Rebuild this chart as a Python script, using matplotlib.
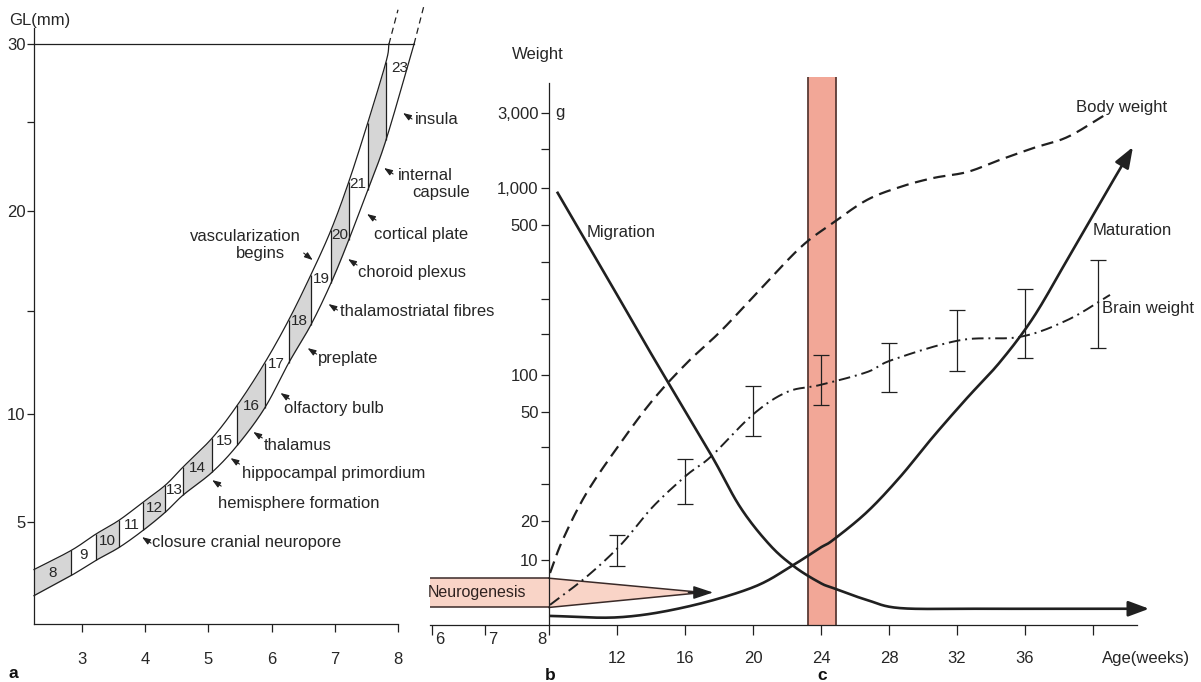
import numpy as np
import matplotlib
matplotlib.use("Agg")
import matplotlib.pyplot as plt
from matplotlib.patches import Polygon, Rectangle

plt.rcParams['font.family'] = ['Liberation Sans', 'DejaVu Sans']
plt.rcParams['font.size'] = 12
INK = '#202020'
TXT = '#262626'
W, H = 1201, 682

# ---------------- panel a: greatest length (GL) of the embryo, stages 8-23 ----------------
stages = list(range(8, 24))
stage_labels = ['8', '9', '10', '11', '12', '13', '14', '15', '16', '17', '18',
                '19', '20', '21', '', '23']
stage_start_wk = [2.24, 2.83, 3.22, 3.59, 3.97, 4.32, 4.60, 5.06, 5.46, 5.89,
                  6.27, 6.62, 6.94, 7.22, 7.52, 7.81]
gl_upper = [2.67, 3.61, 4.41, 5.09, 5.93, 6.71, 7.55, 8.89, 10.44, 12.48,
            14.56, 16.8, 19.05, 21.63, 24.94, 28.85]
gl_lower = [1.39, 2.38, 3.12, 3.76, 4.60, 5.46, 6.25, 7.31, 8.56, 10.29,
            12.48, 14.32, 16.4, 18.55, 21.18, 23.99]
gl_top = 30
upper_top_wk, lower_top_wk = 7.857, 8.254
upper_beyond_wk, upper_beyond_gl = [7.857, 8.0], [30, 32.2]
lower_beyond_wk, lower_beyond_gl = [8.254, 8.413], [30, 32.5]
gl_ticks = [5, 10, 15, 20, 25, 30]
gl_ticklabels = ['5', '10', '', '20', '', '30']
wk_ticks_a = [3, 4, 5, 6, 7, 8]

# axis knots of the hand-drawn GL scale
gl_knots = [-5, 0, 5, 10, 15, 20, 25, 30, 35, 40]
gl_knot_px = [725, 624, 522, 414, 311, 211, 122, 44, -34, -112]

features = ["insula", "internal", "capsule", "cortical plate", "choroid plexus",
            "thalamostriatal fibres", "preplate", "olfactory bulb", "thalamus",
            "hippocampal primordium", "hemisphere formation",
            "closure cranial neuropore"]
# arrow tip (week, GL), text offset in pixels, whether an arrow is drawn
feature_layout = {
    "insula": ((8.08, 25.58), (12, -6), True),
    "internal": ((7.78, 22.42), (14, -8), True),
    "capsule": ((7.78, 22.42), (28, -25), False),
    "cortical plate": ((7.51, 19.85), (7, -20), True),
    "choroid plexus": ((7.21, 17.6), (10, -13), True),
    "thalamostriatal fibres": ((6.90, 15.35), (12, -7), True),
    "preplate": ((6.57, 13.2), (10, -10), True),
    "olfactory bulb": ((6.14, 11.02), (4, -15), True),
    "thalamus": ((5.71, 9.17), (10, -14), True),
    "hippocampal primordium": ((5.35, 7.96), (11, -15), True),
    "hemisphere formation": ((5.06, 6.94), (6, -23), True),
    "closure cranial neuropore": ((3.95, 4.26), (10, -5), True),
}
vasc_tip = (6.65, 17.55)

# ---------------- panels b/c: weight and neuronal processes vs. age ----------------
weight_ticks = [10, 20, 50, 100, 500, 1000, 3000]
weight_ticklabels = ['10', '20', '50', '100', '500', '1,000', '3,000']
weight_minor = [30, 40, 200, 300, 400, 2000]
age_ticks = [6, 7, 8, 12, 16, 20, 24, 28, 32, 36, 40]
age_ticklabels = ['', '', '', '12', '16', '20', '24', '28', '32', '36', '']

w_knots = [-10, 0, 10, 20, 30, 40, 50, 100, 200, 300, 400, 500, 1000, 2000, 3000, 4000, 6000]
w_knot_px = [690, 625, 560, 521, 484, 447, 412, 375, 334, 299, 262, 225, 188, 149, 113, 77, 5]
age_knots = [5, 6, 7, 8, 40, 50]
age_knot_px = [379, 432, 485, 549, 1093, 1263]

body_wk = [8.06, 8.8, 10.2, 12.2, 14.1, 16.1, 18.06, 20, 22.76, 24.7, 26.7,
           28.65, 30.6, 32.6, 34.5, 36.5, 38.5, 40.7]
body_g = [8.0, 15.1, 27.5, 41.1, 66, 129, 206, 305, 438, 527, 838,
          1026, 1256, 1410, 1718, 2028, 2333, 2944]

brain_wk = [8.06, 10.2, 12.2, 14.1, 16.1, 17.5, 20, 22, 23.94, 26.7, 28.2,
            32.2, 35.7, 38.5, 41.0]
brain_g = [3.1, 7.4, 13.8, 23.8, 32.4, 37.3, 49.3, 77, 86.5, 107, 137,
           185, 193, 240, 311]
brain_err_wk = [12, 16, 20, 24, 28, 32, 36, 40.3]
brain_err_lo = [9.1, 24.6, 43.1, 59.5, 77, 110, 141, 166]
brain_err_hi = [16.4, 36.8, 85, 149, 178, 269, 327, 405]

migration_wk = [8.47, 11.29, 14.12, 17.47, 19.24, 21.0, 22.47, 23.94,
                24.7, 26.7, 28.65, 33, 38, 43.3]
migration_lvl = [950, 368, 144, 38.4, 23.8, 13.8, 8.9, 6.5, 5.7, 3.85,
                 2.6, 2.5, 2.5, 2.5]

maturation_wk = [8, 12.18, 16.1, 20, 22.35, 23.94, 24.7, 26.7, 28.65, 30.59,
                 32.59, 34.53, 36.47, 38.47, 40.41, 42.0, 42.35]
maturation_lvl = [1.4, 1.2, 2.8, 5.8, 9.2, 13.1, 15.1, 22.4, 31.9, 42.9,
                  68.9, 131.7, 245.7, 405, 797, 1795, 2056]

neuro_from_wk, neuro_split_wk, neuro_join_wk, neuro_tip_wk = 5.962, 8, 17.06, 17.65
neuro_lo, neuro_mid, neuro_hi = 2.7, 5.0, 7.2
window_wk = (23.24, 24.86)
window_top = 4000


def knot_scale(vals, px, flip):
    vals = np.asarray(vals, float)
    p = -np.asarray(px, float) if flip else np.asarray(px, float)

    def fwd(v):
        return np.interp(v, vals, p)

    def inv(u):
        return np.interp(u, p, vals)
    return fwd, inv


def catmull_rom(P, n=24):
    P = np.asarray(P, float)
    ext = np.vstack([2 * P[0] - P[1], P, 2 * P[-1] - P[-2]])
    t = np.linspace(0, 1, n, endpoint=False)[:, None]
    segs = []
    for i in range(1, len(ext) - 2):
        p0, p1, p2, p3 = ext[i - 1], ext[i], ext[i + 1], ext[i + 2]
        segs.append(0.5 * (2 * p1 + (p2 - p0) * t
                           + (2 * p0 - 5 * p1 + 4 * p2 - p3) * t ** 2
                           + (3 * p1 - p0 - 3 * p2 + p3) * t ** 3))
    segs.append(P[-1:])
    return np.vstack(segs)


def smooth(ax, x, y):
    disp = ax.transData.transform(np.column_stack([x, y]))
    return ax.transData.inverted().transform(catmull_rom(disp))


def curve_with_head(ax, x, y, lw, head_px=17):
    s = smooth(ax, x, y)
    disp = ax.transData.transform(s)
    d = np.hypot(*(disp - disp[-1]).T)
    k = np.where(d > head_px)[0][-1]
    ax.plot(s[:k + 1, 0], s[:k + 1, 1], lw=lw, color=INK, clip_on=False,
            solid_capstyle='butt', zorder=4)
    ax.annotate('', xy=tuple(s[-1]), xytext=tuple(s[k]),
                arrowprops=dict(arrowstyle='-|>,head_length=0.7,head_width=0.26',
                                mutation_scale=18, lw=lw, color=INK,
                                shrinkA=0, shrinkB=0),
                annotation_clip=False, zorder=5)


fig = plt.figure(figsize=(W / 100, H / 100), dpi=100)
fig.patch.set_facecolor('white')

# ============ panel a ============
axa = fig.add_axes([34 / W, (H - 624) / H, (398 - 34) / W, (624 - 28) / H])
axa.set_yscale('function', functions=knot_scale(gl_knots, gl_knot_px, True))
axa.set_xlim(2.24, 8.0)
axa.set_ylim(0, 31.03)
for side in ('top', 'right'):
    axa.spines[side].set_visible(False)
for side in ('left', 'bottom'):
    axa.spines[side].set_linewidth(0.9)
    axa.spines[side].set_color(INK)
axa.set_xticks(wk_ticks_a)
axa.set_xticklabels([str(v) for v in wk_ticks_a])
axa.set_yticks(gl_ticks)
axa.set_yticklabels(gl_ticklabels)
axa.yaxis.set_minor_locator(matplotlib.ticker.NullLocator())
axa.xaxis.set_minor_locator(matplotlib.ticker.NullLocator())
axa.tick_params(axis='x', direction='out', length=6, width=0.9, pad=14,
                labelsize=12, colors=INK, labelcolor=TXT)
axa.tick_params(axis='y', direction='out', length=5, width=0.9, pad=1,
                labelsize=12, colors=INK, labelcolor=TXT)

up_s = smooth(axa, stage_start_wk + [upper_top_wk], gl_upper + [gl_top])
lo_s = smooth(axa, stage_start_wk + [lower_top_wk], gl_lower + [gl_top])


def upper_at(x):
    return np.minimum(np.interp(x, up_s[:, 0], up_s[:, 1]), gl_top)


def lower_at(x):
    return np.interp(x, lo_s[:, 0], lo_s[:, 1])


stage_end_wk = stage_start_wk[1:] + [lower_top_wk]
for i, st in enumerate(stages):
    x0, x1 = stage_start_wk[i], stage_end_wk[i]
    if i % 2 == 0 and st != 23:
        xg = np.linspace(x0, x1, 40)
        axa.fill_between(xg, lower_at(xg), upper_at(xg), color='#d6d6d6',
                         lw=0, zorder=1)
    if not stage_labels[i]:
        continue
    xm = 0.5 * (x0 + x1)
    y_top = float(upper_at(xm))
    y_bot = float(lower_at(xm))
    pm = axa.transData.transform([(xm, y_top), (xm, y_bot)]).mean(axis=0)
    xy = axa.transData.inverted().transform(pm)
    axa.text(xy[0], xy[1], stage_labels[i], ha='center', va='center', fontsize=11,
             color=TXT, zorder=6)

axa.plot(up_s[:, 0], up_s[:, 1], color=INK, lw=0.9, zorder=3, clip_on=False)
axa.plot(lo_s[:, 0], lo_s[:, 1], color=INK, lw=0.9, zorder=3, clip_on=False)
axa.vlines(stage_start_wk[1:], gl_lower[1:], gl_upper[1:], color=INK, lw=0.9, zorder=3)
axa.plot([2.24, lower_top_wk], [gl_top, gl_top], color=INK, lw=0.9, clip_on=False, zorder=3)
axa.plot(upper_beyond_wk, upper_beyond_gl, color=INK, lw=0.9, ls=(0, (5, 3.5)), clip_on=False)
axa.plot(lower_beyond_wk, lower_beyond_gl, color=INK, lw=0.9, ls=(0, (5, 3.5)), clip_on=False)

small_arrow = dict(arrowstyle='-|>,head_length=0.55,head_width=0.2', mutation_scale=9,
                   lw=0.8, color=INK, shrinkA=0, shrinkB=0)
for name in features:
    tip, off, arrow = feature_layout[name]
    if arrow:
        axa.annotate('', xy=tip, xytext=(9, -6), textcoords='offset pixels',
                     arrowprops=small_arrow, annotation_clip=False)
    axa.annotate(name, xy=tip, xytext=off, textcoords='offset pixels',
                 ha='left', va='center', fontsize=12, color=TXT,
                 annotation_clip=False)
axa.annotate('', xy=vasc_tip, xytext=(-9, 7), textcoords='offset pixels',
             arrowprops=small_arrow, annotation_clip=False)
axa.annotate('vascularization', xy=vasc_tip, xytext=(-67, 24), textcoords='offset pixels',
             ha='center', va='center', fontsize=12, color=TXT, annotation_clip=False)
axa.annotate('begins', xy=vasc_tip, xytext=(-52, 7), textcoords='offset pixels',
             ha='center', va='center', fontsize=12, color=TXT, annotation_clip=False)

fig.text(40 / W, 1 - 20 / H, 'GL(mm)', ha='center', va='center', fontsize=12, color=TXT)

# ============ panels b / c ============
axb = fig.add_axes([430 / W, (H - 625) / H, (1137 - 430) / W, (625 - 77) / H])
axb.set_xscale('function', functions=knot_scale(age_knots, age_knot_px, False))
axb.set_yscale('function', functions=knot_scale(w_knots, w_knot_px, True))
x_lo = float(np.interp(430, age_knot_px, age_knots))
x_hi = float(np.interp(1137, age_knot_px, age_knots))
axb.set_xlim(x_lo, x_hi)
axb.set_ylim(0, window_top)
axb.patch.set_alpha(0)
for side in ('top', 'right'):
    axb.spines[side].set_visible(False)
axb.spines['left'].set_position(('data', 8))
axb.spines['left'].set_bounds(0, 3833)
for side in ('left', 'bottom'):
    axb.spines[side].set_linewidth(0.9)
    axb.spines[side].set_color(INK)

axb.set_yticks(weight_ticks)
axb.set_yticklabels(weight_ticklabels)
axb.set_yticks(weight_minor, minor=True)
axb.set_xticks(age_ticks)
axb.set_xticklabels(age_ticklabels)
axb.xaxis.set_minor_locator(matplotlib.ticker.NullLocator())
axb.tick_params(axis='y', which='both', direction='out', length=6, width=0.9, pad=1.5,
                labelsize=12, colors=INK, labelcolor=TXT)
axb.tick_params(axis='x', direction='out', length=7, width=0.9, pad=12,
                labelsize=12, colors=INK, labelcolor=TXT)
for wk, dx, ha in ((6, 3, 'left'), (7, 3, 'left'), (8, -3, 'right')):
    axb.annotate(str(wk), xy=(wk, 0), xytext=(dx, -15), textcoords='offset pixels',
                 ha=ha, va='center', fontsize=12, color=TXT, annotation_clip=False)

# critical window
axb.add_patch(Rectangle((window_wk[0], 0), window_wk[1] - window_wk[0], window_top,
                        facecolor='#f2a797', edgecolor='none', zorder=1, clip_on=False))
axb.vlines(window_wk, 0, window_top, color='#5b3a35', lw=1.3, zorder=1.5, clip_on=False)

# neurogenesis
neuro_fill = '#f9d4c7'
axb.add_patch(Rectangle((neuro_from_wk, neuro_lo), neuro_split_wk - neuro_from_wk,
                        neuro_hi - neuro_lo, facecolor=neuro_fill, edgecolor='none', zorder=1))
axb.hlines([neuro_lo, neuro_hi], neuro_from_wk, neuro_split_wk, color='#3a2a28', lw=1.1, zorder=2)
axb.add_patch(Polygon([(neuro_split_wk, neuro_hi), (neuro_join_wk, neuro_mid),
                       (neuro_split_wk, neuro_lo)], closed=True,
                      facecolor=neuro_fill, edgecolor='none', zorder=1))
axb.plot([neuro_split_wk, neuro_join_wk, neuro_split_wk], [neuro_hi, neuro_mid, neuro_lo],
         color='#3a2a28', lw=1.1, zorder=2)
axb.annotate('', xy=(neuro_tip_wk, neuro_mid), xytext=(16.2, neuro_mid),
             arrowprops=dict(arrowstyle='-|>,head_length=0.75,head_width=0.25',
                             mutation_scale=16, lw=1.1, color=INK, shrinkA=0, shrinkB=0),
             zorder=3)
axb.text(neuro_from_wk - 0.05, neuro_mid, 'Neurogenesis', ha='left', va='center',
         fontsize=11.5, color='#2e2220', zorder=3)

# body and brain weight
bs = smooth(axb, body_wk, body_g)
axb.plot(bs[:, 0], bs[:, 1], color=INK, lw=1.6, ls=(0, (5.5, 3)), zorder=4)
rs = smooth(axb, brain_wk, brain_g)
axb.plot(rs[:, 0], rs[:, 1], color=INK, lw=1.4, ls=(0, (6, 2.5, 1, 2.5)), zorder=4)
axb.vlines(brain_err_wk, brain_err_lo, brain_err_hi, color=INK, lw=0.9, zorder=4)
axb.plot(brain_err_wk, brain_err_lo, ls='none', marker='_', ms=11.5, mew=0.9, color=INK, zorder=4)
axb.plot(brain_err_wk, brain_err_hi, ls='none', marker='_', ms=11.5, mew=0.9, color=INK, zorder=4)

# migration and maturation
curve_with_head(axb, migration_wk, migration_lvl, lw=1.9)
curve_with_head(axb, maturation_wk, maturation_lvl, lw=1.9)

for label, xy in (("Migration", (10.24, 481)), ("Body weight", (39.0, 3139)),
                  ("Maturation", (40.0, 484)), ("Brain weight", (40.53, 274)),
                  ("g", (8.35, 3000))):
    axb.text(xy[0], xy[1], label, ha='left', va='center', fontsize=12, color=TXT,
             zorder=6, clip_on=False)

fig.text(538 / W, 1 - 55 / H, 'Weight', ha='center', va='center', fontsize=12, color=TXT)
fig.text(1102 / W, 1 - 658 / H, 'Age(weeks)', ha='left', va='center', fontsize=12, color=TXT)

for letter, px, py in (("a", 13, 674), ("b", 550, 675), ("c", 822, 676)):
    fig.text(px / W, 1 - py / H, letter, ha='center', va='center', fontsize=12.5,
             fontweight='bold', color='#111111')

fig.savefig('out.png', dpi=100, facecolor='white')
